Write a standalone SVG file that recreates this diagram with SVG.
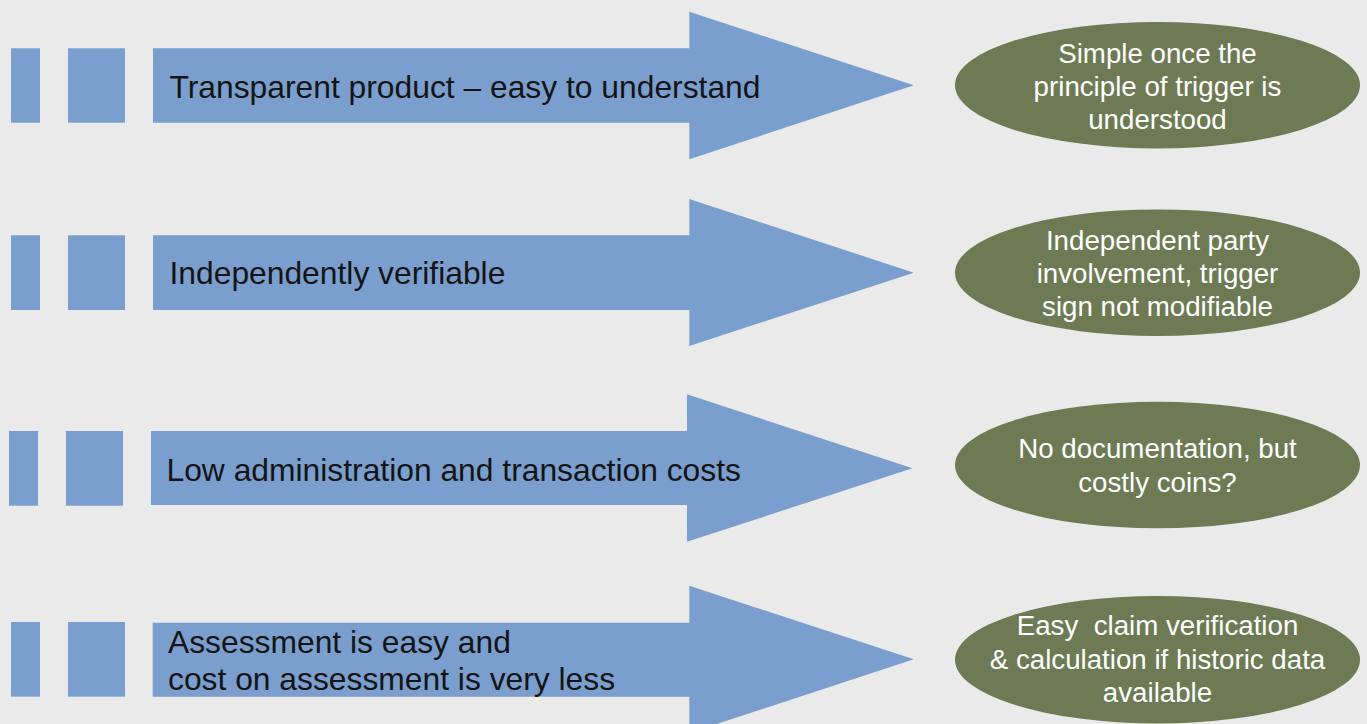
<svg xmlns="http://www.w3.org/2000/svg" width="1367" height="724" viewBox="0 0 1367 724">
  <style>
    .bar { fill: #7A9FCE; }
    .arrow { fill: #7A9FCE; }
    .oval { fill: #6E7A53; }
    .lbl { font-family: "Liberation Sans", Arial, sans-serif; font-size: 31.8px; fill: #141414; }
    .note { font-family: "Liberation Sans", Arial, sans-serif; font-size: 27.7px; fill: #FFFFFF; text-anchor: middle; white-space: pre; }
  </style>
  <rect x="0" y="0" width="1367" height="724" fill="#EAEAEA"/>

  <!-- row 1 -->
  <g id="row1-bars">
    <rect class="bar" x="11" y="48.3" width="29" height="74.4"/>
    <rect class="bar" x="68" y="48.3" width="57" height="74.4"/>
  </g>
  <g id="row1-arrow">
    <polygon class="arrow" points="153,48.3 689.3,48.3 689.3,11.7 913.8,85.3 689.3,159.3 689.3,122.7 153,122.7"/>
    <text class="lbl" x="169.5" y="98">Transparent product – easy to understand</text>
  </g>
  <g id="row1-note">
    <ellipse class="oval" cx="1157.5" cy="85.2" rx="202.5" ry="63.2"/>
    <text class="note" x="1157.5" y="63.3">Simple once the</text>
    <text class="note" x="1157.5" y="96">principle of trigger is</text>
    <text class="note" x="1157.5" y="128.5">understood</text>
  </g>

  <!-- row 2 -->
  <g id="row2-bars">
    <rect class="bar" x="11" y="235.3" width="29" height="74.7"/>
    <rect class="bar" x="68" y="235.3" width="57" height="74.7"/>
  </g>
  <g id="row2-arrow">
    <polygon class="arrow" points="153,235.3 689.3,235.3 689.3,199 913.8,272.7 689.3,346 689.3,310 153,310"/>
    <text class="lbl" x="169.5" y="284.3">Independently verifiable</text>
  </g>
  <g id="row2-note">
    <ellipse class="oval" cx="1157.5" cy="272.7" rx="202.5" ry="63.3"/>
    <text class="note" x="1157.5" y="250">Independent party</text>
    <text class="note" x="1157.5" y="283">involvement, trigger</text>
    <text class="note" x="1157.5" y="316">sign not modifiable</text>
  </g>

  <!-- row 3 -->
  <g id="row3-bars">
    <rect class="bar" x="9" y="431" width="29" height="74.7"/>
    <rect class="bar" x="66" y="431" width="57" height="74.7"/>
  </g>
  <g id="row3-arrow">
    <polygon class="arrow" points="151,431 687,431 687,394.3 912.5,468.3 687,541.7 687,505 151,505"/>
    <text class="lbl" x="166.5" y="480.5">Low administration and transaction costs</text>
  </g>
  <g id="row3-note">
    <ellipse class="oval" cx="1157.5" cy="465" rx="202.5" ry="63.3"/>
    <text class="note" x="1157.5" y="458.3">No documentation, but</text>
    <text class="note" x="1157.5" y="491.7">costly coins?</text>
  </g>

  <!-- row 4 -->
  <g id="row4-bars">
    <rect class="bar" x="11" y="622" width="29" height="74.7"/>
    <rect class="bar" x="68" y="622" width="57" height="74.7"/>
  </g>
  <g id="row4-arrow">
    <polygon class="arrow" points="152.7,622.7 689.3,622.7 689.3,585.7 913.8,659.3 689.3,733 689.3,696.7 152.7,696.7"/>
    <text class="lbl" x="168" y="652.7">Assessment is easy and</text>
    <text class="lbl" x="168" y="690">cost on assessment is very less</text>
  </g>
  <g id="row4-note">
    <ellipse class="oval" cx="1157.5" cy="659.7" rx="202.5" ry="63.7"/>
    <text class="note" x="1157.5" y="635">Easy  claim verification</text>
    <text class="note" x="1157.5" y="669">&amp; calculation if historic data</text>
    <text class="note" x="1157.5" y="701.7">available</text>
  </g>

  <!-- no connectors: each row is an arrow pointing at its note -->
  <g id="connectors"/>
</svg>
